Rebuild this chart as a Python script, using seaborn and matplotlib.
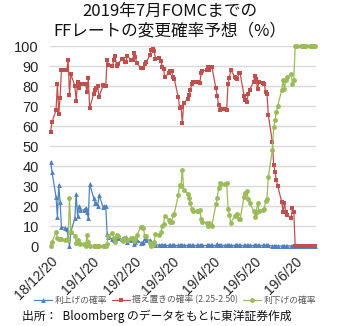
import matplotlib
matplotlib.use("Agg")
import matplotlib.pyplot as plt
import seaborn as sns
import pandas as pd
from matplotlib.lines import Line2D

# ---------------- data ----------------
start_date = "2018-12-20"
end_date = "2019-07-05"

hike = [42, 37,
        24.5, 14.7, 30.5, 22, 9.5,
        9, 8.5, 4, 0, 7,
        14, 26, 15, 20, 18,
        18, 19, 17, 14, 31,
        24, 21.7, 21.3, 20, 25.5,
        19.5, 20, 20, 6, 4.5,
        3.5, 3, 3, 4.7, 4,
        3.5, 4, 4, 4.5, 2,
        3, 3, 1, 2, 3,
        1.7, 1.5, 2, 4, 3,
        3, 2, 1, 0.5, 0.5,
        0.5, 0.5, 0.5, 0.5, 0.3,
        0.3, 0.3, 0.3, 0.3, 0.3,
        0.3, 0.3, 0.3, 0.3, 0.3,
        0.3, 0.3, 0.3, 0.3, 0.3,
        0.3, 0.3, 0.3, 0.3, 0.3,
        0.3, 0.3, 0.3, 0.3, 0.3,
        0.3, 1.2, 0.3, 0.3, 0.3,
        0.3, 0.3, 0.3, 0.3, 0.3,
        0.3, 0.3, 0.3, 0.3, 0.3,
        0.3, 0.3, 0.3, 0.3, 0.3,
        0.3, 0.3, 0.3, 0.3, 0.3,
        0.3, 0.3, 0.3, 0.3, 0.3,
        0, 0, 0, 0, 0,
        0, 0, 0, 0, 0,
        0, 0, 0, 0, 0,
        0, 0, 0, 0, 0,
        0, 0, 0, 0, 0]

hold = [57, 62,
        68, 81, 66, 74, 88,
        88, 88, 93, 75.5, 86,
        80, 72.5, 82, 79, 81,
        81, 81, 77, 84, 69,
        76, 78, 79, 80, 74.5,
        80.5, 80, 80, 93, 90.5,
        90, 93, 95, 90, 91,
        93.5, 93.5, 92, 92, 95,
        93, 93, 96.7, 94.7, 91.7,
        89, 89, 89, 91, 92,
        95.5, 98, 98.5, 97.5, 93.5,
        94, 92.7, 89.7, 88.5, 84.5,
        86.5, 87.5, 87.7, 84.3, 83.5,
        74.3, 69, 69.7, 61.5, 71.5,
        73.5, 75.5, 78, 81, 82,
        82, 82, 81.5, 86.3, 87.5,
        88, 89.5, 88, 89.3, 89.7,
        78.8, 75, 70.5, 68, 68.5,
        68.5, 68, 81, 84, 88,
        84.7, 84, 83.5, 86.3, 86.3,
        75, 73, 72, 76, 78,
        82, 85, 83.3, 78.3, 82,
        81.5, 81, 77, 76, 65.5,
        52, 40.5, 37, 33, 30,
        22, 17, 21.5, 17, 15.5,
        14, 19, 17, 0, 0,
        0, 0, 0, 0, 0,
        0, 0, 0, 0, 0]

cut = [0, 2,
       7, 4, 3.5, 3.5, 3.5,
       3, 3.5, 3, 24, 7,
       5, 1.5, 3, 1.3, 1,
       1, 0, 5.5, 2, 0,
       0, 0, 0, 0, 0,
       0, 0, 0, 1, 5,
       6.5, 4, 2, 5.3, 5,
       3, 2.5, 4, 3.5, 3,
       4, 4, 2.3, 3.3, 5.3,
       9.3, 9.5, 9, 5, 5,
       1.5, 0, 0.5, 2, 6,
       5.5, 6.8, 9.8, 11, 15.2,
       13.2, 12.2, 12, 15.4, 16.2,
       25.4, 30.7, 30, 38.2, 28.2,
       26.2, 24.2, 21.7, 18.7, 17.7,
       17.7, 17.7, 18.2, 13.4, 12.2,
       11.7, 10.2, 11.7, 10.4, 10,
       20.9, 23.8, 29.2, 31.7, 31.2,
       31.2, 31.7, 18.7, 15.7, 11.7,
       15, 15.7, 16.2, 13.4, 13.4,
       24.7, 26.7, 27.7, 23.7, 21.7,
       17.7, 14.7, 16.4, 21.4, 17.7,
       18.2, 18.7, 22.7, 23.7, 34.5,
       48, 59.5, 63, 67, 70,
       78, 83, 78.5, 83, 84.5,
       86, 81, 83, 100, 100,
       100, 100, 100, 100, 100,
       100, 100, 100, 100, 100]

series_names = ["利上げの確率", "据え置きの確率 (2.25-2.50)", "利下げの確率"]
tick_dates = ["2018-12-20", "2019-01-20", "2019-02-20", "2019-03-20",
              "2019-04-20", "2019-05-20", "2019-06-20"]
tick_labels = ["18/12/20", "19/1/20", "19/2/20", "19/3/20",
               "19/4/20", "19/5/20", "19/6/20"]
y_ticks = [0, 10, 20, 30, 40, 50, 60, 70, 80, 90, 100]

title_lines = ["2019年7月FOMCまでの", "FFレートの変更確率予想（%）"]
source_text = "出所：  Bloomberg のデータをもとに東洋証券作成"

# ---------------- plot ----------------
sns.set_style("white")
plt.rcParams["font.family"] = ["Liberation Sans", "Noto Sans CJK JP"]

dates = pd.bdate_range(start_date, end_date)
assert len(dates) == len(hike) == len(hold) == len(cut)

colors = ["#4F81BD", "#C0504D", "#9BBB59"]
markers = ["^", "s", "o"]

fig = plt.figure(figsize=(3.4, 3.26), dpi=100)
ax = fig.add_axes([50 / 340, 80 / 326, 266 / 340, 200 / 326])

handles = []
for vals, col, mk, name in zip([hike, hold, cut], colors, markers, series_names):
    sns.lineplot(x=dates, y=vals, ax=ax, color=col, marker=mk, markersize=3.5,
                 markeredgewidth=0, linewidth=0.9, clip_on=False, legend=False)
    handles.append(Line2D([], [], color=col, marker=mk, markersize=3.5,
                          markeredgewidth=0, linewidth=0.9, label=name))

ax.set_xlim(pd.Timestamp("2018-12-19 12:00"), pd.Timestamp("2019-07-05 12:00"))
ax.set_ylim(0, 100)
ax.set_yticks(y_ticks)
ax.set_xticks(pd.to_datetime(tick_dates))
ax.set_xticklabels(tick_labels, rotation=45, ha="right", rotation_mode="anchor")
ax.set_xlabel("")
ax.set_ylabel("")
ax.yaxis.grid(True, color="#d9d9d9", linewidth=1)
ax.xaxis.grid(False)
for s in ax.spines.values():
    s.set_visible(False)
ax.tick_params(axis="y", length=0, pad=8, labelsize=10.5, labelcolor="#262626")
ax.tick_params(axis="x", length=0, pad=6, labelsize=10, labelcolor="#262626")

fig.text(0.5, 1 - 11 / 326, title_lines[0], ha="center", va="center",
         fontsize=12, family=["Noto Sans CJK JP"], color="#111111")
fig.text(0.5, 1 - 31 / 326, title_lines[1], ha="center", va="center",
         fontsize=12, family=["Noto Sans CJK JP"], color="#111111")

leg = fig.legend(handles=handles, loc="center", bbox_to_anchor=(0.515, 1 - 300 / 326),
                 ncol=3, frameon=False, handlelength=2.0,
                 handletextpad=0.3, columnspacing=0.6, borderpad=0,
                 prop={"family": ["Noto Sans CJK JP"], "size": 6.3})
for t in leg.get_texts():
    t.set_color("#595959")

fig.text(22 / 340, 1 - 316 / 326, source_text, ha="left", va="center",
         fontsize=8.5, family=["Noto Sans CJK JP"], color="#111111")

fig.savefig("out.png", dpi=100)
